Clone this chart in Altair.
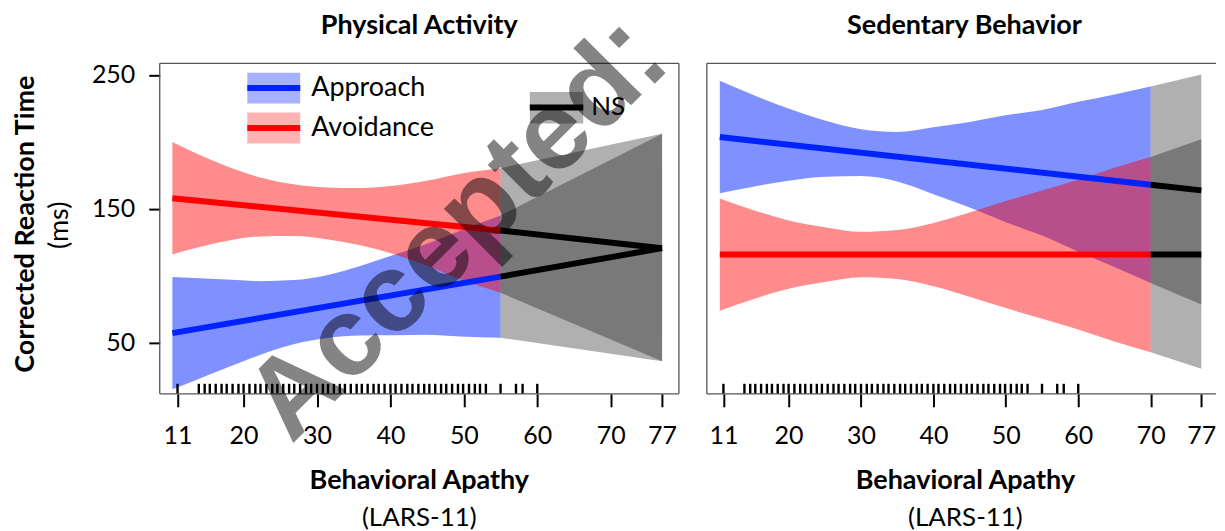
import altair as alt
import pandas as pd

# ---------------- data ----------------
# rug of observed LARS-11 scores (same participants in both panels)
rug = [11.0, 13.9, 14.7, 15.4, 16.2, 17.0, 17.7, 18.5, 19.3, 20.0, 20.8, 21.6, 22.3,
       23.1, 23.9, 24.6, 25.4, 26.2, 26.9, 27.7, 28.5, 29.2, 30.0, 30.8, 31.5, 32.3,
       33.1, 33.8, 34.6, 35.4, 36.1, 36.9, 37.7, 38.4, 39.2, 40.0, 40.7, 41.5, 42.3,
       43.0, 43.8, 44.6, 45.3, 46.1, 46.9, 47.6, 48.4, 49.2, 49.9, 50.7, 51.5, 52.2,
       53.0, 55.0, 57.1, 58.0, 60.0]

x_ticks = [11, 20, 30, 40, 50, 60, 70, 77]
y_ticks = [50, 150, 250]

# Physical Activity
pa_x = [10.3, 13.2, 17.7, 22.3, 26.8, 31.3, 35.9, 40.4, 44.9, 49.5, 55.0]
pa_app_hi = [99.0, 98.2, 97.0, 95.8, 96.6, 100.3, 107.2, 115.4, 123.7, 133.5, 144.9]
pa_app_lo = [15.0, 21.2, 31.0, 40.8, 48.6, 53.3, 55.2, 55.4, 55.7, 54.5, 53.5]
pa_avo_hi = [199.8, 192.2, 181.8, 173.3, 168.2, 165.8, 165.4, 167.1, 170.9, 176.2, 180.3]
pa_avo_lo = [115.8, 120.2, 125.8, 129.3, 129.6, 127.2, 122.6, 116.1, 107.5, 97.2, 87.1]
pa_ns_x = [55.0, 77.0]
pa_ns_app_hi = [144.9, 206.0]
pa_ns_app_lo = [53.5, 36.0]
pa_ns_avo_hi = [180.3, 206.0]
pa_ns_avo_lo = [87.1, 36.0]
pa_fit_x = [10.3, 55.0]
pa_app_fit = [57.0, 99.2]
pa_avo_fit = [157.8, 133.7]
pa_ns_app_fit = [99.2, 120.5]
pa_ns_avo_fit = [133.7, 120.5]

# Sedentary Behavior
sb_x = [10.5, 15.3, 20.0, 25.0, 30.0, 35.0, 40.0, 45.0, 50.0, 55.0, 60.0, 65.0, 70.0]
sb_app_hi = [245.6, 234.7, 224.9, 215.9, 209.4, 207.4, 210.9, 214.9, 219.9, 223.9, 229.9, 235.4, 241.4]
sb_app_lo = [161.6, 166.7, 170.9, 173.9, 174.4, 170.4, 160.9, 150.9, 139.9, 129.9, 117.9, 106.4, 94.4]
sb_avo_hi = [157.7, 148.7, 141.2, 136.2, 132.7, 134.0, 139.4, 147.2, 155.7, 163.7, 171.7, 180.7, 188.7]
sb_avo_lo = [73.7, 82.7, 90.2, 95.2, 98.7, 97.4, 92.0, 84.2, 75.7, 67.7, 59.7, 50.7, 42.7]
sb_ns_x = [70.0, 77.0]
sb_ns_app_hi = [241.4, 250.4]
sb_ns_app_lo = [94.4, 78.4]
sb_ns_avo_hi = [188.7, 201.9]
sb_ns_avo_lo = [42.7, 30.4]
sb_fit_x = [10.5, 70.0]
sb_app_fit = [203.6, 167.9]
sb_avo_fit = [115.7, 115.7]
sb_ns_app_fit = [167.9, 163.7]
sb_ns_avo_fit = [115.7, 115.7]

# ---------------- styling ----------------
FONT = "Lato"
H = 331
W1, W2 = 520, 504
XDOM1 = [8.58, 79.29]
XDOM2 = [8.71, 78.2]
YDOM = [11.6, 258.7]
BLUE = "#0022ff"
RED = "#ff0000"
FRAME = "#555555"

one = pd.DataFrame({"a": [0]})


def xenc(field, dom):
    return alt.X(field, type="quantitative",
                 scale=alt.Scale(domain=dom, nice=False, zero=False),
                 axis=alt.Axis(values=x_ticks, title=None, grid=False, domain=False,
                               tickSize=13, tickWidth=2, tickColor="black",
                               labelFont=FONT, labelFontSize=25, labelColor="black",
                               labelPadding=17, labelFlush=False, labelOverlap=False,
                               format="d"))


def yenc(field, show):
    if show:
        ax = alt.Axis(values=y_ticks, title=None, grid=False, domain=False,
                      tickSize=11, tickWidth=2, tickColor="black",
                      labelFont=FONT, labelFontSize=25, labelColor="black",
                      labelPadding=14, format="d")
    else:
        ax = None
    return alt.Y(field, type="quantitative",
                 scale=alt.Scale(domain=YDOM, nice=False, zero=False), axis=ax)


def band(xs, lo, hi, color, opacity, dom, show):
    df = pd.DataFrame({"x": xs, "lo": lo, "hi": hi})
    return alt.Chart(df).mark_area(color=color, opacity=opacity, interpolate="monotone").encode(
        x=xenc("x", dom), y=yenc("lo", show), y2="hi")


def fit(xs, ys, color, dom, show):
    df = pd.DataFrame({"x": xs, "y": ys})
    return alt.Chart(df).mark_line(color=color, strokeWidth=6, strokeCap="butt").encode(
        x=xenc("x", dom), y=yenc("y", show))


def rugl(dom):
    df = pd.DataFrame({"r": rug})
    return alt.Chart(df).mark_rule(color="black", strokeWidth=2.4).encode(
        x=xenc("r", dom), y=alt.value(H - 10), y2=alt.value(H))


def txt(s, x, y, size, bold=False, angle=0, align="center", baseline="alphabetic",
        font=FONT, opacity=1.0):
    return alt.Chart(one).mark_text(text=s, fontSize=size, font=font,
                                    fontWeight="bold" if bold else "normal",
                                    angle=angle, align=align, baseline=baseline,
                                    color="black", opacity=opacity).encode(
        x=alt.value(x), y=alt.value(y))


def hrule(x1, x2, y, color, w):
    return alt.Chart(one).mark_rule(color=color, strokeWidth=w, strokeCap="butt").encode(
        x=alt.value(x1), x2=alt.value(x2), y=alt.value(y))


def vrule(x, y1, y2, color, w):
    return alt.Chart(one).mark_rule(color=color, strokeWidth=w, strokeCap="butt").encode(
        x=alt.value(x), y=alt.value(y1), y2=alt.value(y2))


def rect(x1, x2, y1, y2, color, opacity):
    return alt.Chart(one).mark_rect(color=color, opacity=opacity).encode(
        x=alt.value(x1), x2=alt.value(x2), y=alt.value(y1), y2=alt.value(y2))


def dot(x, y):
    return alt.Chart(one).mark_square(size=230, angle=45, color="black", opacity=0.48).encode(
        x=alt.value(x), y=alt.value(y))


# ---------------- left panel ----------------
left_layers = [
    band(pa_x, pa_app_lo, pa_app_hi, BLUE, 0.5, XDOM1, True),
    band(pa_x, pa_avo_lo, pa_avo_hi, RED, 0.45, XDOM1, True),
    band(pa_ns_x, pa_ns_app_lo, pa_ns_app_hi, "black", 0.31, XDOM1, True),
    band(pa_ns_x, pa_ns_avo_lo, pa_ns_avo_hi, "black", 0.31, XDOM1, True),
    fit(pa_fit_x, pa_app_fit, BLUE, XDOM1, True),
    fit(pa_fit_x, pa_avo_fit, RED, XDOM1, True),
    fit(pa_ns_x, pa_ns_app_fit, "black", XDOM1, True),
    fit(pa_ns_x, pa_ns_avo_fit, "black", XDOM1, True),
    rugl(XDOM1),
    hrule(0, W1, 0, FRAME, 1.3), hrule(0, W1, H, FRAME, 1.3),
    vrule(0, 0, H, FRAME, 1.3), vrule(W1, 0, H, FRAME, 1.3),
    # legend
    rect(87.7, 140.7, 9.3, 40.3, BLUE, 0.35), hrule(87.7, 140.7, 24.7, BLUE, 6),
    rect(87.7, 140.7, 49.3, 80.3, RED, 0.3), hrule(87.7, 140.7, 64.7, RED, 6),
    rect(370.7, 424.2, 28.8, 60.3, "black", 0.31), hrule(370.7, 424.2, 44.3, "black", 6),
    txt("Approach", 151.7, 24.3, 27, align="left", baseline="middle"),
    txt("Avoidance", 151.7, 64.5, 27, align="left", baseline="middle"),
    txt("NS", 432.2, 43.5, 26, align="left", baseline="middle"),
    # titles
    txt("Physical Activity", 260, -29.5, 27, bold=True),
    txt("Behavioral Apathy", 260, 426.3, 27, bold=True),
    txt("(LARS-11)", 260, 463.7, 26),
    txt("Corrected Reaction Time", -125.8, 161.1, 27, bold=True, angle=270),
    txt("(ms)", -92.3, 162.3, 27, angle=270),
    # watermark
    txt("Accepted", 131.7, 382.3, 112, bold=True, angle=315, align="left",
        font="Liberation Sans", opacity=0.48),
    dot(495.9, 9.7),
    dot(460.2, -26.0),
]
left = alt.layer(*left_layers).properties(width=W1, height=H)

# ---------------- right panel ----------------
right_layers = [
    band(sb_x, sb_app_lo, sb_app_hi, BLUE, 0.5, XDOM2, False),
    band(sb_x, sb_avo_lo, sb_avo_hi, RED, 0.45, XDOM2, False),
    band(sb_ns_x, sb_ns_app_lo, sb_ns_app_hi, "black", 0.31, XDOM2, False),
    band(sb_ns_x, sb_ns_avo_lo, sb_ns_avo_hi, "black", 0.31, XDOM2, False),
    fit(sb_fit_x, sb_app_fit, BLUE, XDOM2, False),
    fit(sb_fit_x, sb_avo_fit, RED, XDOM2, False),
    fit(sb_ns_x, sb_ns_app_fit, "black", XDOM2, False),
    fit(sb_ns_x, sb_ns_avo_fit, "black", XDOM2, False),
    rugl(XDOM2),
    hrule(0, W2 + 6, 0, FRAME, 1.3), hrule(0, W2 + 6, H, FRAME, 1.3),
    vrule(0, 0, H, FRAME, 1.3),
    txt("Sedentary Behavior", 258, -29.5, 27, bold=True),
    txt("Behavioral Apathy", 259, 426.3, 27, bold=True),
    txt("(LARS-11)", 259, 463.7, 26),
]
right = alt.layer(*right_layers).properties(width=W2, height=H)

chart = alt.hconcat(left, right, spacing=26).properties(
    padding={"left": 4, "top": 3, "right": 0, "bottom": 0}
).configure_view(strokeOpacity=0)

chart.save("out.html", embed_options={"renderer": "svg", "actions": False})
